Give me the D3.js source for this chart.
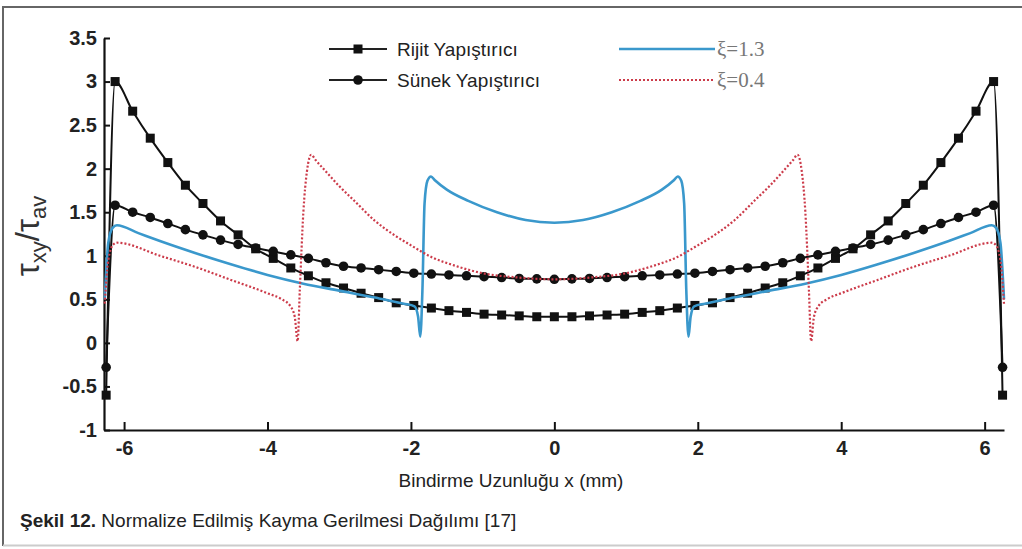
<!DOCTYPE html>
<html>
<head>
<meta charset="utf-8">
<script src="https://cdn.jsdelivr.net/npm/d3@7"></script>
<style>
  body { margin: 0; background: #fff; }
  svg { display: block; }
</style>
</head>
<body>
<svg></svg>
<script>

// ----- Data ----- //
var markerX = [-6.25, -6.125, -5.88, -5.635, -5.39, -5.145, -4.9, -4.655, -4.41, -4.165, -3.92, -3.675,
  -3.43, -3.185, -2.94, -2.695, -2.45, -2.205, -1.96, -1.715, -1.47, -1.225, -0.98, -0.735, -0.49, -0.245,
  0, 0.245, 0.49, 0.735, 0.98, 1.225, 1.47, 1.715, 1.96, 2.205, 2.45, 2.695, 2.94, 3.185, 3.43, 3.675,
  3.92, 4.165, 4.41, 4.655, 4.9, 5.145, 5.39, 5.635, 5.88, 6.125, 6.25];

var rigidY = [-0.6, 3.00, 2.66, 2.35, 2.07, 1.81, 1.60, 1.40, 1.24, 1.08, 0.97, 0.86,
  0.77, 0.69, 0.63, 0.57, 0.52, 0.46, 0.43, 0.40, 0.37, 0.35, 0.33, 0.32, 0.31, 0.30,
  0.30, 0.30, 0.31, 0.32, 0.33, 0.35, 0.37, 0.40, 0.43, 0.46, 0.52, 0.57, 0.63, 0.69, 0.77, 0.86,
  0.97, 1.08, 1.24, 1.40, 1.60, 1.81, 2.07, 2.35, 2.66, 3.00, -0.6];

var ductileY = [-0.28, 1.58, 1.50, 1.44, 1.37, 1.30, 1.24, 1.18, 1.13, 1.09, 1.05, 1.01,
  0.97, 0.92, 0.88, 0.86, 0.84, 0.82, 0.80, 0.79, 0.78, 0.77, 0.76, 0.75, 0.74, 0.735,
  0.73, 0.735, 0.74, 0.75, 0.76, 0.77, 0.78, 0.79, 0.80, 0.82, 0.84, 0.86, 0.88, 0.92, 0.97, 1.01,
  1.05, 1.09, 1.13, 1.18, 1.24, 1.30, 1.37, 1.44, 1.50, 1.58, -0.28];

var xi13X = [-6.27, -6.22, -6.16, -6.10, -5.8, -5.5, -5.0, -4.5, -4.0, -3.5, -3.0, -2.5, -2.1, -1.95,
  -1.90, -1.87, -1.84, -1.81, -1.77, -1.72, -1.67, -1.5, -1.2, -0.8, -0.4, 0, 0.4, 0.8, 1.2, 1.5, 1.67,
  1.72, 1.77, 1.81, 1.84, 1.87, 1.90, 1.95, 2.1, 2.5, 3.0, 3.5, 4.0, 4.5, 5.0, 5.5, 5.8, 6.10, 6.16,
  6.22, 6.27];
var xi13Y = [0.50, 1.15, 1.32, 1.35, 1.26, 1.17, 1.03, 0.90, 0.78, 0.68, 0.60, 0.52, 0.45, 0.42,
  0.30, 0.07, 0.60, 1.60, 1.86, 1.91, 1.87, 1.76, 1.63, 1.50, 1.41, 1.38, 1.41, 1.50, 1.63, 1.76, 1.87,
  1.91, 1.86, 1.60, 0.60, 0.07, 0.30, 0.42, 0.45, 0.52, 0.60, 0.68, 0.78, 0.90, 1.03, 1.17, 1.26, 1.35, 1.32,
  1.15, 0.50];

var xi04X = [-6.27, -6.22, -6.15, -6.10, -5.5, -5.0, -4.5, -4.0, -3.8, -3.68, -3.62, -3.58, -3.55,
  -3.50, -3.45, -3.39, -3.33, -3.2, -3.0, -2.8, -2.5, -2.2, -2.0, -1.7, -1.4, -1.0, -0.5, 0, 0.5, 1.0,
  1.4, 1.7, 2.0, 2.2, 2.5, 2.8, 3.0, 3.2, 3.33, 3.39, 3.45, 3.50, 3.55, 3.58, 3.62, 3.68, 3.8, 4.0, 4.5,
  5.0, 5.5, 6.10, 6.15, 6.22, 6.27];
var xi04Y = [0.45, 0.95, 1.13, 1.15, 1.00, 0.87, 0.72, 0.57, 0.50, 0.42, 0.30, 0.02, 0.60,
  1.50, 1.97, 2.16, 2.10, 1.98, 1.80, 1.64, 1.40, 1.22, 1.12, 0.98, 0.89, 0.80, 0.75, 0.73, 0.75, 0.80,
  0.89, 0.98, 1.12, 1.22, 1.40, 1.64, 1.80, 1.98, 2.10, 2.16, 1.97, 1.50, 0.60, 0.02, 0.30, 0.42, 0.50, 0.57, 0.72,
  0.87, 1.00, 1.15, 1.13, 0.95, 0.45];

var xTicks = [-6, -4, -2, 0, 2, 4, 6];
var yTicks = [-1, -0.5, 0, 0.5, 1, 1.5, 2, 2.5, 3, 3.5];

var labels = {
  rigid: 'Rijit Yapıştırıcı',
  ductile: 'Sünek Yapıştırıcı',
  xi13: 'ξ=1.3',
  xi04: 'ξ=0.4',
  xAxis: 'Bindirme Uzunluğu x (mm)',
  captionBold: 'Şekil 12.',
  caption: ' Normalize Edilmiş Kayma Gerilmesi Dağılımı [17]'
};

// ----- SVG settings ----- //
var svgWidth = 1022;
var svgHeight = 549;
var plot = {left: 104, right: 1004, top: 38, bottom: 430};
var BLUE = '#3a98cc';
var RED = '#cc3b4a';
var scale = {};

var svg = d3.select('svg')
  .attr('width', svgWidth)
  .attr('height', svgHeight)
  .style('font-family', '"Liberation Sans", Arial, sans-serif');

setScale();
drawFrame();
drawAxis();
drawSeries();
drawLegend();
drawTexts();

// ==================== Helper functions ==================== //

function setScale() {
  scale.x = d3.scaleLinear().domain([-6.28, 6.27]).range([plot.left, plot.right]);
  scale.y = d3.scaleLinear().domain([-1, 3.5]).range([plot.bottom, plot.top]);
}

function drawFrame() {
  svg.append('path')
    .attr('d', 'M3,546 L3,7 L1022,7')
    .attr('fill', 'none')
    .attr('stroke', '#666')
    .attr('stroke-width', 2);
  svg.append('line')
    .attr('x1', 3).attr('x2', 1022)
    .attr('y1', 545.5).attr('y2', 545.5)
    .attr('stroke', '#ccc')
    .attr('stroke-width', 2);
}

function drawAxis() {
  var fmt = function(d) { return String(d); };

  var ax = svg.append('g')
    .attr('transform', translate(0, plot.bottom))
    .call(d3.axisBottom(scale.x).tickValues(xTicks).tickFormat(fmt)
      .tickSize(-8).tickSizeOuter(0).tickPadding(11));

  var ay = svg.append('g')
    .attr('transform', translate(plot.left, 0))
    .call(d3.axisLeft(scale.y).tickValues(yTicks).tickFormat(fmt)
      .tickSize(-6).tickSizeOuter(0).tickPadding(7));

  [ax, ay].forEach(function(a) {
    a.select('.domain').attr('stroke', '#111').attr('stroke-width', 2.2);
    a.selectAll('.tick line').attr('stroke', '#111').attr('stroke-width', 2);
    a.selectAll('.tick text')
      .attr('fill', '#222')
      .style('font-size', '20px')
      .style('font-weight', 'bold')
      .style('font-family', '"Liberation Sans", Arial, sans-serif');
  });
}

function pairs(xs, ys) {
  return xs.map(function(x, i) { return [x, ys[i]]; });
}

function drawSeries() {
  var line = d3.line()
    .x(function(d) { return scale.x(d[0]); })
    .y(function(d) { return scale.y(d[1]); })
    .curve(d3.curveMonotoneX);

  var rigid = pairs(markerX, rigidY);
  var ductile = pairs(markerX, ductileY);

  svg.append('path').datum(rigid)
    .attr('d', line).attr('fill', 'none')
    .attr('stroke', '#111').attr('stroke-width', 2);
  svg.append('path').datum(ductile)
    .attr('d', line).attr('fill', 'none')
    .attr('stroke', '#111').attr('stroke-width', 2);

  svg.append('g').selectAll('rect')
    .data(rigid).enter().append('rect')
    .attr('x', function(d) { return scale.x(d[0]) - 4.5; })
    .attr('y', function(d) { return scale.y(d[1]) - 4.5; })
    .attr('width', 9).attr('height', 9)
    .attr('fill', '#111');

  svg.append('g').selectAll('circle')
    .data(ductile).enter().append('circle')
    .attr('cx', function(d) { return scale.x(d[0]); })
    .attr('cy', function(d) { return scale.y(d[1]); })
    .attr('r', 4.8)
    .attr('fill', '#111');

  svg.append('path').datum(pairs(xi13X, xi13Y))
    .attr('d', line).attr('fill', 'none')
    .attr('stroke', BLUE).attr('stroke-width', 2.6);

  svg.append('path').datum(pairs(xi04X, xi04Y))
    .attr('d', line).attr('fill', 'none')
    .attr('stroke', RED).attr('stroke-width', 2.2)
    .attr('stroke-dasharray', '2,2');
}

function drawLegend() {
  var rows = [
    {y: 49, label: labels.rigid, shape: 'square'},
    {y: 80, label: labels.ductile, shape: 'circle'}
  ];
  rows.forEach(function(r) {
    svg.append('line')
      .attr('x1', 329).attr('x2', 387).attr('y1', r.y).attr('y2', r.y)
      .attr('stroke', '#222').attr('stroke-width', 2);
    if (r.shape === 'square') {
      svg.append('rect').attr('x', 353.5).attr('y', r.y - 4.5)
        .attr('width', 9).attr('height', 9).attr('fill', '#111');
    } else {
      svg.append('circle').attr('cx', 358).attr('cy', r.y).attr('r', 4.8).attr('fill', '#111');
    }
    svg.append('text')
      .attr('x', 397).attr('y', r.y + 7)
      .style('font-size', '19px')
      .attr('fill', '#222')
      .text(r.label);
  });

  svg.append('line')
    .attr('x1', 619).attr('x2', 715).attr('y1', 49).attr('y2', 49)
    .attr('stroke', BLUE).attr('stroke-width', 2.6);
  svg.append('line')
    .attr('x1', 619).attr('x2', 715).attr('y1', 80).attr('y2', 80)
    .attr('stroke', RED).attr('stroke-width', 2.2)
    .attr('stroke-dasharray', '2,2');

  [[49, labels.xi13], [80, labels.xi04]].forEach(function(r) {
    svg.append('text')
      .attr('x', 717).attr('y', r[0] + 7)
      .style('font-family', '"Liberation Serif", "Times New Roman", serif')
      .style('font-size', '21px')
      .attr('fill', '#777')
      .text(r[1]);
  });
}

function drawTexts() {
  // y axis title: tau_xy / tau_av
  var yt = svg.append('text')
    .attr('transform', 'translate(39,236) rotate(-90)')
    .attr('text-anchor', 'middle')
    .attr('fill', '#333')
    .style('font-size', '33px');
  yt.append('tspan').text('τ');
  yt.append('tspan').attr('dy', 7).style('font-size', '22px').text('xy');
  yt.append('tspan').attr('dy', -7).text('/');
  yt.append('tspan').text('τ');
  yt.append('tspan').attr('dy', 7).style('font-size', '22px').text('av');

  svg.append('text')
    .attr('x', 511).attr('y', 487)
    .attr('text-anchor', 'middle')
    .style('font-size', '19px')
    .attr('fill', '#222')
    .text(labels.xAxis);

  var cap = svg.append('text')
    .attr('x', 20).attr('y', 527)
    .style('font-size', '19px')
    .attr('fill', '#222');
  cap.append('tspan').style('font-weight', 'bold').text(labels.captionBold);
  cap.append('tspan').text(labels.caption);
}

function translate(x, y) {
  return 'translate(' + x + ',' + y + ')';
}

</script>
</body>
</html>
